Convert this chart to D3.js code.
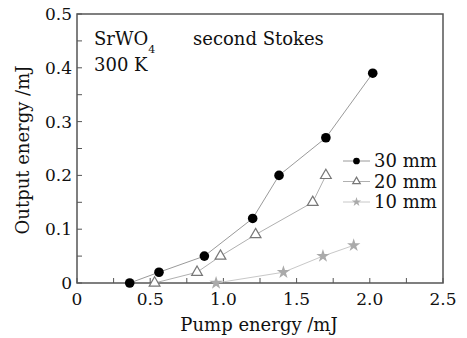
<!DOCTYPE html>
<html>
<head>
<meta charset="utf-8">
<script src="https://cdn.jsdelivr.net/npm/d3@7"></script>
<style>
  body { margin: 0; background: #fff; }
  svg { display: block; }
</style>
</head>
<body>
<svg id="chart" width="467" height="338"></svg>
<script>
// data
var pump30 = [0.36, 0.56, 0.87, 1.20, 1.38, 1.70, 2.02];
var out30  = [0.00, 0.02, 0.05, 0.12, 0.20, 0.27, 0.39];
var pump20 = [0.53, 0.82, 0.98, 1.22, 1.61, 1.70];
var out20  = [0.00, 0.02, 0.05, 0.09, 0.15, 0.20];
var pump10 = [0.95, 1.41, 1.68, 1.89];
var out10  = [0.00, 0.02, 0.05, 0.07];
var seriesNames = ['30 mm', '20 mm', '10 mm'];
var xTicks = [0, 0.5, 1.0, 1.5, 2.0, 2.5];
var yTicks = [0, 0.1, 0.2, 0.3, 0.4, 0.5];

var FONT = 'DejaVu Serif, serif';
var LEFT = 77, RIGHT = 443, TOP = 14, BOTTOM = 283;

var svg = d3.select('#chart');
var x = d3.scaleLinear().domain([0, 2.5]).range([LEFT, RIGHT]);
var y = d3.scaleLinear().domain([0, 0.5]).range([BOTTOM, TOP]);

var zip = function(xs, ys) {
    return xs.map(function(v, i) { return [v, ys[i]]; });
};

var series = [
    { name: seriesNames[0], pts: zip(pump30, out30), line: '#9a9a9a', type: 'circle' },
    { name: seriesNames[1], pts: zip(pump20, out20), line: '#b0b0b0', type: 'triangle' },
    { name: seriesNames[2], pts: zip(pump10, out10), line: '#c8c8c8', type: 'star' }
];

// axes, ticks inward
var fmt = function(d) { return d === 0 ? '0' : d3.format('.1f')(d); };

var xMinor = d3.range(0, 2.5001, 0.25);
var yMinor = d3.range(0, 0.5001, 0.05);

svg.append('g')
    .selectAll('line')
    .data(xMinor)
    .enter().append('line')
    .attr('x1', function(d) { return x(d); })
    .attr('x2', function(d) { return x(d); })
    .attr('y1', BOTTOM)
    .attr('y2', BOTTOM - 5)
    .style('stroke', '#555')
    .style('stroke-width', 1);

svg.append('g')
    .selectAll('line')
    .data(yMinor)
    .enter().append('line')
    .attr('x1', LEFT)
    .attr('x2', LEFT + 5)
    .attr('y1', function(d) { return y(d); })
    .attr('y2', function(d) { return y(d); })
    .style('stroke', '#555')
    .style('stroke-width', 1);

svg.append('rect')
    .attr('x', LEFT)
    .attr('y', TOP)
    .attr('width', RIGHT - LEFT)
    .attr('height', BOTTOM - TOP)
    .style('fill', 'none')
    .style('stroke', '#555')
    .style('stroke-width', 1.5);

svg.append('g')
    .selectAll('text')
    .data(xTicks)
    .enter().append('text')
    .attr('x', function(d) { return x(d); })
    .attr('y', BOTTOM + 22)
    .attr('text-anchor', 'middle')
    .style('font-family', FONT)
    .style('font-size', '17px')
    .style('fill', '#111')
    .text(fmt);

svg.append('g')
    .selectAll('text')
    .data(yTicks)
    .enter().append('text')
    .attr('x', LEFT - 5)
    .attr('y', function(d) { return y(d); })
    .attr('dy', '0.35em')
    .attr('text-anchor', 'end')
    .style('font-family', FONT)
    .style('font-size', '17px')
    .style('fill', '#111')
    .text(fmt);

svg.append('text')
    .attr('x', 259)
    .attr('y', 331)
    .attr('text-anchor', 'middle')
    .style('font-family', FONT)
    .style('font-size', '18px')
    .style('fill', '#111')
    .text('Pump energy /mJ');

svg.append('text')
    .attr('transform', 'translate(29,150) rotate(-90)')
    .attr('text-anchor', 'middle')
    .style('font-family', FONT)
    .style('font-size', '18px')
    .style('fill', '#111')
    .text('Output energy /mJ');

// annotations
var ann = svg.append('text')
    .attr('x', 94)
    .attr('y', 45)
    .style('font-family', FONT)
    .style('font-size', '18px')
    .style('fill', '#111');
ann.append('tspan').text('SrWO');
ann.append('tspan').attr('dy', 8).style('font-size', '11px').text('4');

svg.append('text')
    .attr('x', 94)
    .attr('y', 71)
    .style('font-family', FONT)
    .style('font-size', '18px')
    .style('fill', '#111')
    .text('300 K');

svg.append('text')
    .attr('x', 193)
    .attr('y', 45)
    .style('font-family', FONT)
    .style('font-size', '18px')
    .style('fill', '#111')
    .text('second Stokes');

// markers
var drawMarker = function(g, type, cx, cy, small) {
    var k = small ? 0.7 : 1;
    if (type === 'circle') {
        g.append('circle')
            .attr('cx', cx).attr('cy', cy).attr('r', 4.8 * k)
            .style('fill', '#000');
    } else if (type === 'triangle') {
        g.append('path')
            .attr('transform', 'translate(' + cx + ',' + cy + ')')
            .attr('d', d3.symbol(d3.symbolTriangle, 50 * k * k)())
            .style('fill', '#fff')
            .style('stroke', '#777')
            .style('stroke-width', 1.2);
    } else {
        g.append('path')
            .attr('transform', 'translate(' + cx + ',' + cy + ')')
            .attr('d', d3.symbol(d3.symbolStar, 55 * k * k)())
            .style('fill', '#aaa');
    }
};

var line = d3.line()
    .x(function(d) { return x(d[0]); })
    .y(function(d) { return y(d[1]); });

series.forEach(function(s) {
    svg.append('path')
        .datum(s.pts)
        .attr('d', line)
        .style('fill', 'none')
        .style('stroke', s.line)
        .style('stroke-width', 1);
    var g = svg.append('g');
    s.pts.forEach(function(p) {
        drawMarker(g, s.type, x(p[0]), y(p[1]), false);
    });
});

// legend
series.forEach(function(s, i) {
    var ly = 161 + i * 20.5;
    var g = svg.append('g');
    g.append('line')
        .attr('x1', 343).attr('x2', 370)
        .attr('y1', ly).attr('y2', ly)
        .style('stroke', s.line)
        .style('stroke-width', 1);
    drawMarker(g, s.type, 356.5, ly, true);
    g.append('text')
        .attr('x', 374)
        .attr('y', ly)
        .attr('dy', '0.35em')
        .style('font-family', FONT)
        .style('font-size', '18px')
        .style('fill', '#111')
        .text(s.name);
});
</script>
</body>
</html>
